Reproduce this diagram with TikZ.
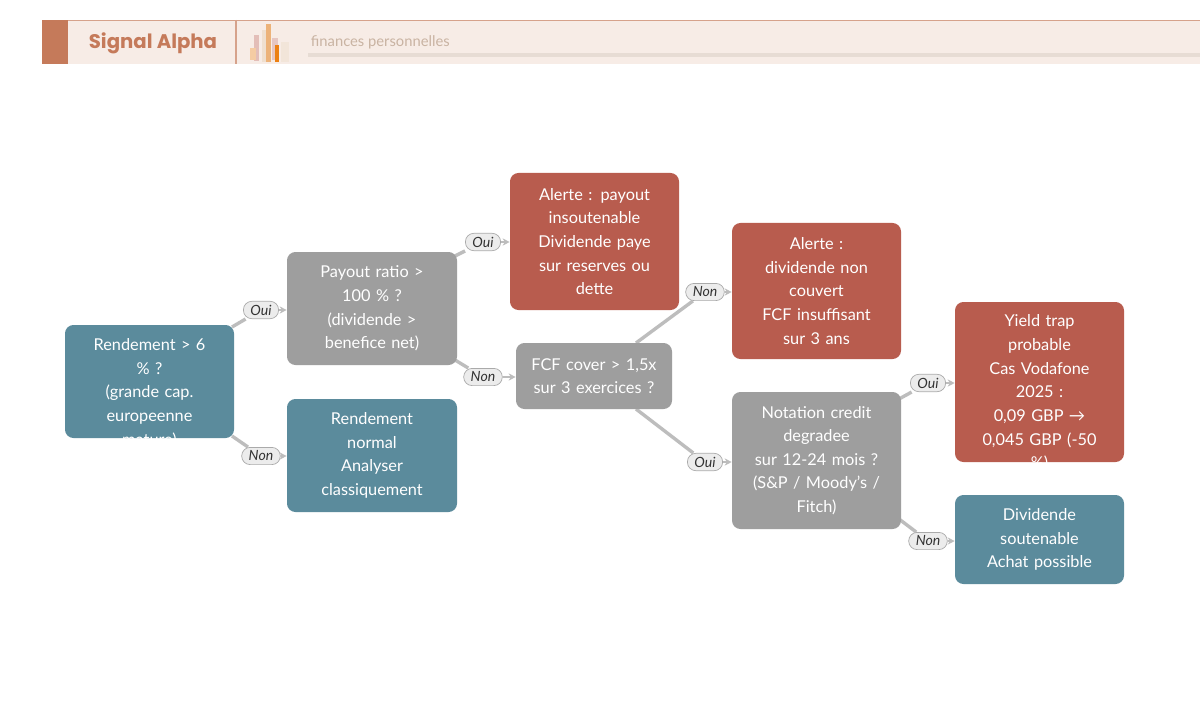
\documentclass[tikz,border=0pt]{standalone}
\usepackage{fontspec}
\setmainfont{Lato}
\newfontfamily\pop{Poppins}
\usetikzlibrary{arrows.meta}
\pgfdeclarelayer{bg}
\pgfsetlayers{bg,main}
\definecolor{teal}{HTML}{5B8B9C}
\definecolor{gr}{HTML}{9E9E9E}
\definecolor{rd}{HTML}{B85C4E}
\definecolor{edge}{HTML}{BDBDBD}
\definecolor{hdr}{HTML}{F7ECE6}
\definecolor{brand}{HTML}{C57A5A}
\definecolor{sub}{HTML}{C9B3A2}
\tikzset{
 box/.style={rounded corners=6pt,draw=none,inner sep=0pt},
 txt/.style={text=white,align=center,font=\fontsize{11.6}{16.8}\selectfont,text width=4cm},
 lab/.style={draw=edge!90!black,fill=gray!15,rounded corners=6pt,inner xsep=5pt,inner ysep=2.5pt,font=\itshape\fontsize{10}{10}\selectfont,text=black!80,line width=0.5pt},
 ln/.style={draw=edge,line width=2.4pt},
 ar/.style={draw=edge,line width=1.2pt,-{Stealth[length=5pt,width=5pt]}},
}
\begin{document}
\begin{tikzpicture}[x=0.025cm,y=-0.025cm]
\useasboundingbox (0,0) rectangle (1200,721);
\begin{pgfonlayer}{bg}\fill[white] (0,0) rectangle (1200,721);\end{pgfonlayer}
% header
\fill[hdr] (42,20) rectangle (1200,64);
\draw[brand!70,line width=0.8pt] (42,20.5) -- (1200,20.5);
\fill[brand] (42,20) rectangle (68,64);
\draw[brand!70,line width=0.8pt] (236,20) -- (236,64);
\node[font=\pop\bfseries\fontsize{14}{16}\selectfont,text=brand] (title) at (153,43) {Signal Alpha};
\fill[rd!40] (254,35) rectangle (259,61);
\fill[orange!60!brown!40] (250,48) rectangle (256,60);
\fill[brown!25] (262,30) rectangle (268,62);
\fill[orange!50!brown!60] (266,24) rectangle (271,62);
\fill[rd!35] (272,38) rectangle (278,60);
\fill[orange!70!brown] (275,45) rectangle (279,62);
\fill[brown!20] (281,42) rectangle (289,62);
\node[anchor=west,text=sub,font=\fontsize{10.5}{12}\selectfont] (subt) at (306,42) {finances personnelles};
\fill[brown!20!hdr!80!gray!60] (308,53) rectangle (1200,57);
% boxes
\node[box,fill=teal,minimum width={169*0.025cm},minimum height={113*0.025cm}] (A) at (149.5,381.5) {};
\node[txt] (At) at (149.5,393) {Rendement > 6\\\% ?\\(grande cap.\\europeenne\\mature)};
\node[box,fill=gr,minimum width={170*0.025cm},minimum height={113*0.025cm}] (B) at (372,308.5) {};
\node[txt] (Bt) at (372,308.5) {Payout ratio >\\100 \% ?\\(dividende >\\benefice net)};
\node[box,fill=teal,minimum width={170*0.025cm},minimum height={113*0.025cm}] (C) at (372,455.5) {};
\node[txt] (Ct) at (372,455.5) {Rendement\\normal\\Analyser\\classiquement};
\node[box,fill=rd,minimum width={169*0.025cm},minimum height={137*0.025cm}] (D) at (594.5,241.5) {};
\node[txt] (Dt) at (594.5,241.5) {Alerte : payout\\insoutenable\\Dividende paye\\sur reserves ou\\dette};
\node[box,fill=gr,minimum width={156*0.025cm},minimum height={66*0.025cm}] (E) at (594,376) {};
\node[txt] (Et) at (594,376) {FCF cover > 1,5x\\sur 3 exercices ?};
\node[box,fill=rd,minimum width={169*0.025cm},minimum height={136*0.025cm}] (F) at (816.5,291) {};
\node[txt] (Ft) at (816.5,291) {Alerte :\\dividende non\\couvert\\FCF insuffisant\\sur 3 ans};
\node[box,fill=gr,minimum width={169*0.025cm},minimum height={137*0.025cm}] (G) at (816.5,460.5) {};
\node[txt] (Gt) at (816.5,460.5) {Notation credit\\degradee\\sur 12-24 mois ?\\(S\&P / Moody's /\\Fitch)};
\node[box,fill=rd,minimum width={169*0.025cm},minimum height={160*0.025cm}] (H) at (1039.5,382) {};
\node[txt] (Ht) at (1039.5,393) {Yield trap\\probable\\Cas Vodafone\\2025 :\\0,09 GBP → \\0,045 GBP (-50\\\%)};
\node[box,fill=teal,minimum width={169*0.025cm},minimum height={89*0.025cm}] (I) at (1039.5,539.5) {};
\node[txt] (It) at (1039.5,539.5) {Dividende\\soutenable\\Achat possible};
% edge labels
\node[lab] (l1) at (261,310) {Oui};
\node[lab] (l2) at (261,456) {Non};
\node[lab] (l3) at (483,242) {Oui};
\node[lab] (l4) at (483,377) {Non};
\node[lab] (l5) at (705,292) {Non};
\node[lab] (l6) at (705,462) {Oui};
\node[lab] (l7) at (928,383) {Oui};
\node[lab] (l8) at (928,541) {Non};
\coordinate (a1) at (232,327); \coordinate (a2) at (232,436);
\coordinate (b1) at (455,256); \coordinate (b2) at (455,360);
\coordinate (e1) at (636,343); \coordinate (e2) at (636,409);
\coordinate (g1) at (899,399); \coordinate (g2) at (899,519);
\begin{pgfonlayer}{bg}
\draw[ln] (a1) -- (l1);
\draw[ln] (a2) -- (l2);
\draw[ln] (b1) -- (l3);
\draw[ln] (b2) -- (l4);
\draw[ln] (e1) -- (l5);
\draw[ln] (e2) -- (l6);
\draw[ln] (g1) -- (l7);
\draw[ln] (g2) -- (l8);
\end{pgfonlayer}
\draw[ar] (l1.east) -- (B.west|-l1);
\draw[ar] (l2.east) -- (C.west|-l2);
\draw[ar] (l3.east) -- (D.west|-l3);
\draw[ar] (l4.east) -- (E.west|-l4);
\draw[ar] (l5.east) -- (F.west|-l5);
\draw[ar] (l6.east) -- (G.west|-l6);
\draw[ar] (l7.east) -- (H.west|-l7);
\draw[ar] (l8.east) -- (I.west|-l8);
\end{tikzpicture}
\end{document}
